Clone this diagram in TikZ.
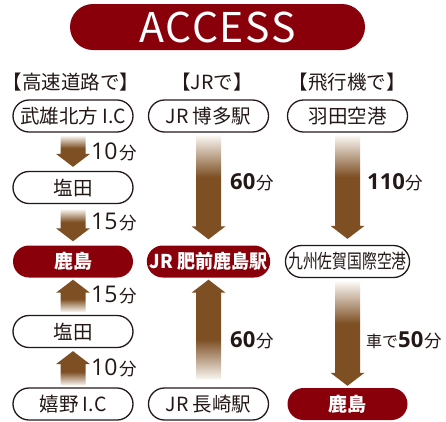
\documentclass[tikz,border=0pt]{standalone}
\usepackage{fontspec}
\usepackage{graphicx}
\setmainfont{Noto Sans CJK JP}
\newfontfamily\accessfont[LetterSpace=4]{Noto Sans CJK JP}
\newfontfamily\numfont{Open Sans}
\usetikzlibrary{shapes.misc,calc}
\definecolor{kred}{RGB}{138,0,10}
\definecolor{kbrown}{RGB}{125,79,35}
\definecolor{kfade}{RGB}{250,246,242}
\definecolor{kink}{RGB}{35,24,21}
\pgfdeclareverticalshading{fadedown}{100bp}{color(0bp)=(kbrown); color(25bp)=(kbrown); color(55bp)=(kbrown); color(75bp)=(kfade); color(100bp)=(kfade)}
\pgfdeclareverticalshading{fadeup}{100bp}{color(0bp)=(kfade); color(25bp)=(kfade); color(45bp)=(kbrown); color(75bp)=(kbrown); color(100bp)=(kbrown)}
% down arrow: #1 tail (top), #2 tip (bottom)
\newcommand\kdown[2]{%
  \shade[shading=fadedown] ($(#1)+(-12.5,0)$) -- ($(#1)+(12.5,0)$) -- ($(#2)+(12.5,-13)$) -- ($(#2)+(17,-13)$) -- (#2) -- ($(#2)+(-17,-13)$) -- ($(#2)+(-12.5,-13)$) -- cycle;}
% up arrow: #1 tail (bottom), #2 tip (top)
\newcommand\kup[2]{%
  \shade[shading=fadeup] ($(#1)+(-12.5,0)$) -- ($(#2)+(-12.5,13)$) -- ($(#2)+(-17,13)$) -- (#2) -- ($(#2)+(17,13)$) -- ($(#2)+(12.5,13)$) -- ($(#1)+(12.5,0)$) -- cycle;}
\newcommand\kmin[1]{{\numfont\fontsize{23}{24}\selectfont #1}\kern1.5pt{\fontsize{17.5}{18}\selectfont 分}}
\newcommand\kminb[1]{{\numfont\fontsize{22}{23}\selectfont\bfseries #1}\kern1pt{\fontsize{17.5}{18}\selectfont 分}}
\tikzset{
  pill/.style={rounded rectangle, draw=kink, line width=1.3pt, minimum width=120pt, minimum height=32pt, inner sep=0pt, font=\fontsize{19.5}{20}\selectfont, text=kink},
  pillred/.style={rounded rectangle, fill=kred, minimum width=120pt, minimum height=32pt, inner sep=0pt, font=\fontsize{19}{20}\selectfont\bfseries, text=white},
  head/.style={font=\fontsize{19.5}{20}\selectfont, text=kink, inner sep=0pt},
  lbl/.style={anchor=west, inner sep=0pt, text=kink}
}
\begin{document}
\begin{tikzpicture}[x=1pt,y=-1pt]
\useasboundingbox (0,0) rectangle (446,421);
\node[rounded rectangle, fill=kred, minimum width=295pt, minimum height=46pt, inner sep=0pt, text=white, font=\accessfont\fontsize{41}{42}\selectfont] (title) at (217.5,27) {ACCESS};
\node[head] (h1) at (71,82) {【高速道路で】};
\node[head] (h2) at (212,82) {【JRで】};
\node[head] (h3) at (347,82) {【飛行機で】};
% left column
\node[pill] (w1) at (73,116) {武雄北方 I.C};
\node[pill] (w2) at (73,187.5) {塩田};
\node[pillred] (w3) at (73,261.5) {鹿島};
\node[pill] (w4) at (73,331.5) {塩田};
\node[pill] (w5) at (73,404) {嬉野 I.C};
% middle column
\node[pill] (m1) at (208.5,116) {JR 博多駅};
\node[pillred] (m2) at (208.5,261.5) {\scalebox{0.95}[1]{JR 肥前鹿島駅}};
\node[pill] (m3) at (208.5,404) {JR 長崎駅};
% right column
\node[pill] (r1) at (347.5,116) {羽田空港};
\node[pill] (r2) at (347.5,261.5) {\scalebox{0.76}[1]{九州佐賀国際空港}};
\node[pillred] (r3) at (347.5,404) {鹿島};
% arrow end points
\coordinate (a1t) at ($(w1.south)+(0,3)$);
\coordinate (a1b) at ($(w2.north)+(0,-4)$);
\coordinate (a2t) at ($(w2.south)+(0,5)$);
\coordinate (a2b) at ($(w3.north)+(0,-4)$);
\coordinate (a3t) at ($(w3.south)+(0,2)$);
\coordinate (a3b) at ($(w4.north)+(0,-3)$);
\coordinate (a4t) at ($(w4.south)+(0,3)$);
\coordinate (a4b) at ($(w5.north)+(0,-2)$);
\coordinate (b1t) at ($(m1.south)+(0,3)$);
\coordinate (b1b) at ($(m2.north)+(0,-6)$);
\coordinate (b2t) at ($(m2.south)+(0,2)$);
\coordinate (b2b) at ($(m3.north)+(0,-8)$);
\coordinate (c1t) at ($(r1.south)+(0,3)$);
\coordinate (c1b) at ($(r2.north)+(0,-6)$);
\coordinate (c2t) at ($(r2.south)+(0,4)$);
\coordinate (c2b) at ($(r3.north)+(0,-2)$);
\kdown{a1t}{a1b}
\kdown{a2t}{a2b}
\kup{a3b}{a3t}
\kup{a4b}{a4t}
\kdown{b1t}{b1b}
\kup{b2b}{b2t}
\kdown{c1t}{c1b}
\kdown{c2t}{c2b}
% labels
\node[lbl] (l1) at (91,152) {\kmin{10}};
\node[lbl] (l2) at (91,222) {\kmin{15}};
\node[lbl] (l3) at (91,295) {\kmin{15}};
\node[lbl] (l4) at (91,368) {\kmin{10}};
\node[lbl] (l5) at (230,182) {\kminb{60}};
\node[lbl] (l6) at (230,340) {\kminb{60}};
\node[lbl] (l7) at (367,182) {\kminb{110}};
\node[lbl] (l8) at (366,340) {{\fontsize{16}{17}\selectfont 車で}\kminb{50}};
\end{tikzpicture}
\end{document}
